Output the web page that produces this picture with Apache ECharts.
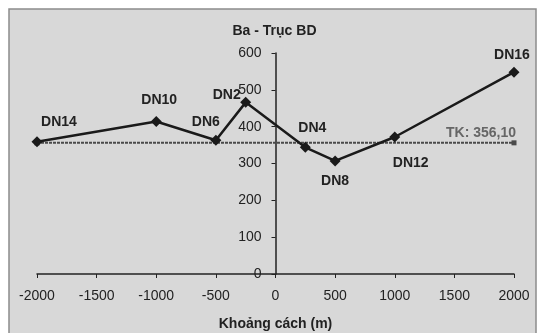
<!DOCTYPE html>
<html>
<head>
<meta charset="utf-8">
<script src="https://cdn.jsdelivr.net/npm/echarts@6/dist/echarts.min.js"></script>
<style>
  html, body { margin: 0; padding: 0; background: #ffffff; }
  #chart { width: 549px; height: 333px; }
</style>
</head>
<body>
<div id="chart"></div>
<script>
// ---- data ----
const pointNames = ['DN14', 'DN10', 'DN6', 'DN2', 'DN4', 'DN8', 'DN12', 'DN16'];
const distances = [-2000, -1000, -500, -250, 250, 500, 1000, 2000];
const elevations = [359, 414, 363, 466, 344, 307, 372, 548];
const tkValue = 356.1;
const tkLabel = 'TK: 356,10';
const xTicks = [-2000, -1500, -1000, -500, 0, 500, 1000, 1500, 2000];
const yTicks = [0, 100, 200, 300, 400, 500, 600];

// ---- label placement (style, not data) ----
const labelOffsets = {
  DN14: [22, -20], DN10: [3, -21], DN6: [-10, -18], DN2: [-19, -7],
  DN4: [7, -19], DN8: [0, 20], DN12: [16, 26], DN16: [-2, -17]
};

const font = 'Liberation Sans, Arial, sans-serif';
const gridLeft = 37, gridRight = 35, chartW = 549;
const mainData = pointNames.map((n, i) => ({
  value: [distances[i], elevations[i]],
  name: n,
  label: {
    show: true, formatter: n, position: 'inside', offset: labelOffsets[n],
    color: '#222', fontWeight: 'bold', fontSize: 14, fontFamily: font
  }
}));

const tkData = [
  { value: [xTicks[0], tkValue] },
  { value: [xTicks[xTicks.length - 1], tkValue],
    label: { show: true, formatter: tkLabel, position: 'inside', align: 'right',
      verticalAlign: 'middle', offset: [2, -10], color: '#666', fontWeight: 'bold',
      fontSize: 14, fontFamily: font } }
];

const xMin = xTicks[0], xMax = xTicks[xTicks.length - 1];
const plotW = chartW - gridLeft - gridRight;
const zeroOffset = -plotW * (0 - xMin) / (xMax - xMin);

const chart = echarts.init(document.getElementById('chart'), null, { renderer: 'canvas' });
chart.setOption({
  animation: false,
  backgroundColor: '#ffffff',
  graphic: [{
    type: 'rect', z: -10, silent: true,
    shape: { x: 9, y: 9, width: 527, height: 340 },
    style: { fill: '#d8d8d8', stroke: '#8c8c8c', lineWidth: 1.5 }
  }],
  title: {
    text: 'Ba - Trục BD', left: 'center', top: 19,
    textStyle: { fontSize: 14, fontWeight: 'bold', color: '#222', fontFamily: font }
  },
  grid: { left: gridLeft, right: gridRight, top: 53, bottom: 59,
    containLabel: false, outerBoundsMode: 'none' },
  xAxis: {
    type: 'value', min: xMin, max: xMax, interval: 500,
    name: 'Khoảng cách (m)', nameLocation: 'middle', nameGap: 43,
    nameTextStyle: { fontSize: 14, fontWeight: 'bold', color: '#222', fontFamily: font },
    axisLine: { lineStyle: { color: '#222', width: 1.5 } },
    axisTick: { length: 4, lineStyle: { color: '#222' } },
    axisLabel: { fontSize: 14, color: '#222', margin: 15, fontFamily: font,
      formatter: v => String(v) },
    splitLine: { show: false }
  },
  yAxis: {
    type: 'value', min: yTicks[0], max: yTicks[yTicks.length - 1], interval: 100,
    position: 'left', offset: zeroOffset,
    axisLine: { show: true, onZero: false, lineStyle: { color: '#222', width: 1.5 } },
    axisTick: { show: true, length: 4, lineStyle: { color: '#222' } },
    axisLabel: { fontSize: 14, color: '#222', margin: 14, fontFamily: font },
    splitLine: { show: false }
  },
  series: [
    {
      type: 'line', data: tkData, symbol: 'rect', symbolSize: 5, z: 2,
      lineStyle: { color: '#4a4a4a', width: 2, type: [3, 1] },
      itemStyle: { color: '#4a4a4a' }
    },
    {
      type: 'line', data: mainData, symbol: 'diamond', symbolSize: 11, z: 3,
      lineStyle: { color: '#1a1a1a', width: 2.5 },
      itemStyle: { color: '#1a1a1a' }
    }
  ]
});
</script>
</body>
</html>
